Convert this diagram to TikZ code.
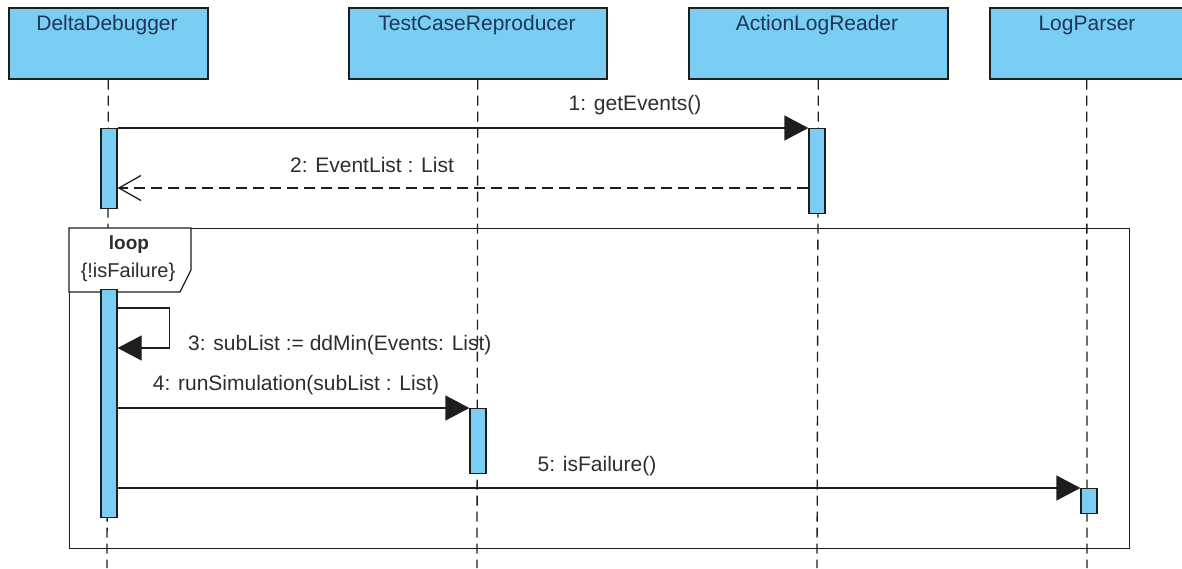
\documentclass[tikz,border=0pt]{standalone}
\usepackage{fontspec}
\setmainfont{Liberation Sans}
\usetikzlibrary{arrows.meta}
\definecolor{objfill}{RGB}{122,205,243}
\definecolor{objtext}{RGB}{30,55,85}
\definecolor{msgtext}{RGB}{45,45,45}
\definecolor{edge}{RGB}{30,30,30}
\begin{document}
\begin{tikzpicture}[x=1pt,y=-1pt,
  every node/.style={font=\fontsize{21}{24}\selectfont},
  head/.style={draw=edge,line width=1.6pt,fill=objfill,minimum height=71pt,anchor=north west,inner sep=0pt},
  headtext/.style={text=objtext},
  lifeline/.style={draw=edge,line width=1.3pt,dash pattern=on 10pt off 6pt},
  bar/.style={draw=edge,line width=1.3pt,fill=objfill,minimum width=16pt,anchor=north,inner sep=0pt},
  call/.style={draw=edge,line width=1.3pt,-{Triangle[length=24pt,width=25pt]}},
  reply/.style={draw=edge,line width=1.3pt,dash pattern=on 11pt off 6pt,-{Straight Barb[length=22pt,width=25pt,line width=1.3pt]}},
  lbl/.style={text=msgtext,inner sep=0pt},
  frame/.style={draw=edge,line width=1.3pt,anchor=north west,inner sep=0pt}
]
\useasboundingbox (0,0) rectangle (1182,568);

% object heads
\node[head,minimum width=199pt] (dd) at (8,7) {};
\node[head,minimum width=258pt] (tcr) at (348,7) {};
\node[head,minimum width=259pt] (alr) at (688,7) {};
\node[head,minimum width=194pt] (lp) at (989,7) {};
\node[headtext] (ddt) at (107,25) {DeltaDebugger};
\node[headtext] (tcrt) at (477,25) {TestCaseReproducer};
\node[headtext] (alrt) at (817,25) {ActionLogReader};
\node[headtext] (lpt) at (1087,25) {LogParser};

% lifelines
\coordinate (ddend) at (107,568);
\coordinate (tcrend) at (477,568);
\coordinate (alrend) at (817,568);
\coordinate (lpend) at (1087,568);
\draw[lifeline] (dd.south) -- (ddend);
\draw[lifeline] (tcr.south) -- (tcrend);
\draw[lifeline] (alr.south) -- (alrend);
\draw[lifeline] (lp.south) -- (lpend);

% combined fragment
\node[frame,minimum width=1060pt,minimum height=320pt] (loop) at (69,228) {};
\draw[draw=edge,line width=1.3pt,fill=white] (loop.north west) -- ++(122,0) -- ++(0,42) -- ++(-11,22) -- ++(-111,0) -- cycle;
\node[font=\fontsize{19}{22}\selectfont\bfseries,text=msgtext] (looplbl) at (129,245) {loop};
\node[text=msgtext,font=\fontsize{20}{22}\selectfont] (loopguard) at (128,272) {\{!isFailure\}};

% activation bars
\node[bar,minimum height=80pt] (dd1) at (109,128) {};
\node[bar,minimum height=85pt] (alr1) at (817,128) {};
\node[bar,minimum height=228pt] (dd2) at (109,289) {};
\node[bar,minimum height=65pt] (tcr1) at (478,408) {};
\node[bar,minimum height=25pt] (lp1) at (1089,488) {};

% messages
\draw[call] (dd1.north east) -- (alr1.north west);
\node[lbl] (m1) at (635,105) {1: getEvents()};

\draw[reply] ([yshift=-60pt]alr1.north west) -- ([yshift=-60pt]dd1.north east);
\node[lbl] (m2) at (372,165) {2: EventList : List};

\coordinate (selfa) at ([shift={(52pt,-19pt)}]dd2.north east);
\coordinate (selfb) at ([shift={(52pt,-59pt)}]dd2.north east);
\draw[call] ([yshift=-19pt]dd2.north east) -- (selfa) -- (selfb) -- ([yshift=-59pt]dd2.north east);
\node[lbl,anchor=west] (m3) at (188,345) {3: subList := ddMin(Events: List)};

\draw[call] ([yshift=-119pt]dd2.north east) -- (tcr1.north west);
\node[lbl] (m4) at (296,385) {4: runSimulation(subList : List)};

\draw[call] ([yshift=-199pt]dd2.north east) -- (lp1.north west);
\node[lbl] (m5) at (597,466) {5: isFailure()};
\end{tikzpicture}
\end{document}
